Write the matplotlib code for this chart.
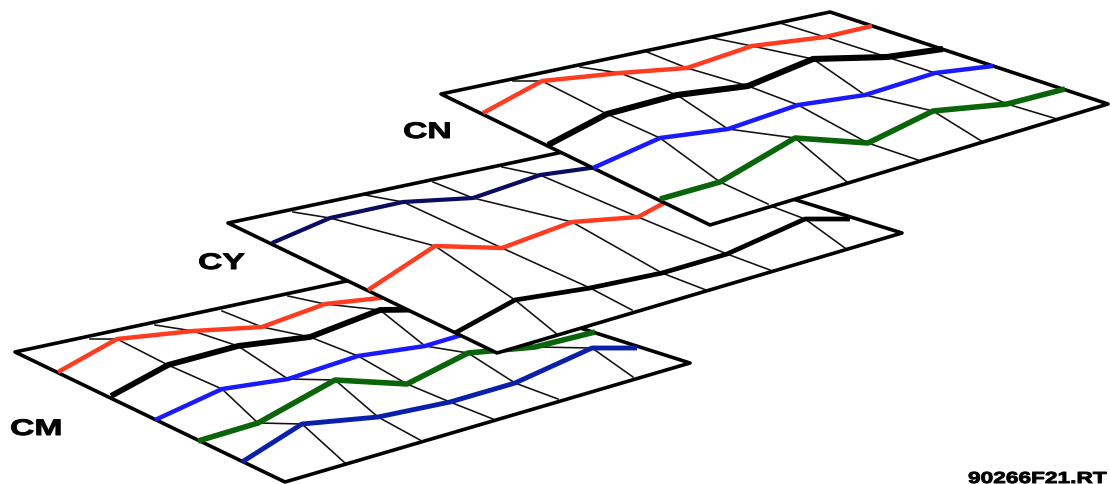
import matplotlib
matplotlib.use("Agg")
import matplotlib.pyplot as plt
from matplotlib.patches import Polygon
from matplotlib.patheffects import AbstractPathEffect
from matplotlib.transforms import Affine2D

# every panel has its own frame: u runs along the sheet, v is height on the sheet,
# both counted from the left corner of the panel

# CN panel
cn_outline_u = [0, 389, 667, 269]
cn_outline_v = [0, 82, -10, -131]
cn_top_u = [72, 139, 206, 272, 339]
cn_top_v = [13, 27, 42, 56, 71]
cn_front_u = [327, 406, 477, 542, 616]
cn_front_v = [-110, -88, -66, -48, -25]
cn_red_u = [42, 101, 179, 246, 311, 384, 431]
cn_red_v = [-19, 13, 21, 26, 48, 57, 68]
cn_black_u = [107, 166, 236, 307, 372, 446, 502]
cn_black_v = [-51, -20, -1, 8, 35, 37, 45]
cn_blue_u = [152, 219, 287, 357, 424, 494, 552]
cn_blue_v = [-74, -44, -35, -11, -1, 21, 28]
cn_green_u = [219, 279, 354, 427, 492, 566, 624]
cn_green_v = [-105, -88, -44, -49, -17, -10, 5]

# CY panel
cy_outline_u = [0, 382, 674, 269]
cy_outline_v = [0, 81, -10, -130]
cy_top_u = [65, 137, 205, 274, 342]
cy_top_v = [11, 28, 41, 56, 71]
cy_front_u = [330, 404, 478, 542, 617]
cy_front_v = [-112, -87, -67, -47, -25]
cy_navy_u = [44, 102, 175, 245, 312, 384, 437]
cy_navy_v = [-20, 5, 21, 25, 48, 58, 63]
cy_red_u = [140, 207, 274, 344, 410, 477, 542]
cy_red_v = [-67, -23, -25, 1, 6, 42, 58]
cy_black_u = [227, 287, 362, 434, 499, 577, 622]
cy_black_v = [-110, -77, -65, -50, -31, 4, 4]

# CM panel
cm_outline_u = [0, 383, 675, 270]
cm_outline_v = [0, 82, -11, -130]
cm_top_u = [75, 140, 207, 273, 340]
cm_top_v = [13, 27, 41, 56, 71]
cm_front_u = [330, 405, 478, 543, 618]
cm_front_v = [-111, -88, -67, -47, -25]
cm_red_u = [43, 102, 178, 247, 310, 383, 430]
cm_red_v = [-20, 13, 21, 25, 48, 56, 72]
cm_black_u = [96, 153, 223, 295, 365, 435, 490]
cm_black_v = [-44, -13, 6, 15, 42, 43, 52]
cm_blue_u = [140, 207, 273, 343, 410, 480, 535]
cm_blue_v = [-68, -37, -27, -4, 6, 27, 42]
cm_green_u = [183, 243, 320, 392, 453, 520, 580]
cm_green_v = [-89, -71, -28, -32, -1, 5, 20]
cm_navy_u = [227, 287, 363, 435, 500, 577, 622]
cm_navy_v = [-110, -72, -65, -50, -31, 4, 4]

RED = "#ff3c20"
BLACK = "#000000"
BLUE = "#1a1aff"
GREEN = "#0a640a"
DARK_NAVY = "#0b0b60"
ROYAL = "#0a20aa"


class StretchX(AbstractPathEffect):
    # the lettering in the original is a heavy extended face, so widen and thicken the glyphs
    def __init__(self, factor):
        super().__init__()
        self.factor = factor

    def draw_path(self, renderer, gc, tpath, affine, rgbFace=None):
        gc0 = renderer.new_gc()
        gc0.copy_properties(gc)
        gc0.set_foreground("black")
        gc0.set_linewidth(0.7)
        renderer.draw_path(gc0, tpath, Affine2D().scale(self.factor, 1) + affine, rgbFace)
        gc0.restore()


def drawPanel(ax, left, top, outline_u, outline_v, top_u, top_v, front_u, front_v, series, z):
    # shift the panel frame to its corner on the page
    frame = Affine2D().translate(left, 484 - top) + ax.transData
    corners = list(zip(outline_u, outline_v))
    ax.add_patch(Polygon(corners, closed=True, facecolor="white", edgecolor="none",
                         transform=frame, zorder=z))
    # thin lines join the same point of each series, back edge to front edge
    for i in range(len(top_u)):
        line_u = [top_u[i]] + [s[0][i + 1] for s in series] + [front_u[i]]
        line_v = [top_v[i]] + [s[1][i + 1] for s in series] + [front_v[i]]
        ax.plot(line_u, line_v, color="#111111", lw=1.15, transform=frame, zorder=z + 1)
    ax.add_patch(Polygon(corners, closed=True, facecolor="none", edgecolor="black", lw=2.6,
                         joinstyle="round", transform=frame, zorder=z + 2))
    for u, v, color, width in series:
        ax.plot(u, v, color=color, lw=width, solid_capstyle="butt", solid_joinstyle="round",
                transform=frame, zorder=z + 3)


def main():
    fig = plt.figure(figsize=(11.10, 4.84), dpi=100)
    ax = fig.add_axes([0, 0, 1, 1])
    ax.set_xlim(0, 1110)
    ax.set_ylim(0, 484)
    ax.axis("off")

    drawPanel(ax, 15, 352, cm_outline_u, cm_outline_v, cm_top_u, cm_top_v, cm_front_u, cm_front_v,
              [(cm_red_u, cm_red_v, RED, 3.2), (cm_black_u, cm_black_v, BLACK, 4.2),
               (cm_blue_u, cm_blue_v, BLUE, 3.2), (cm_green_u, cm_green_v, GREEN, 4.0),
               (cm_navy_u, cm_navy_v, ROYAL, 3.5)], 10)
    drawPanel(ax, 228, 223, cy_outline_u, cy_outline_v, cy_top_u, cy_top_v, cy_front_u, cy_front_v,
              [(cy_navy_u, cy_navy_v, DARK_NAVY, 3.0), (cy_red_u, cy_red_v, RED, 3.2),
               (cy_black_u, cy_black_v, BLACK, 3.4)], 20)
    drawPanel(ax, 441, 94, cn_outline_u, cn_outline_v, cn_top_u, cn_top_v, cn_front_u, cn_front_v,
              [(cn_red_u, cn_red_v, RED, 3.2), (cn_black_u, cn_black_v, BLACK, 4.4),
               (cn_blue_u, cn_blue_v, BLUE, 3.2), (cn_green_u, cn_green_v, GREEN, 4.0)], 30)

    labels = [("CN", 403, 138, 16.2, 1.5), ("CY", 198, 269, 16.2, 1.5), ("CM", 10, 435, 16.2, 1.5),
              ("90266F21.RT", 968, 483, 11.5, 1.42)]
    for text, x, y, size, stretch in labels:
        t = ax.text(x, 484 - y, text, family="Liberation Sans", fontweight="bold", fontsize=size,
                    ha="left", va="baseline", zorder=50)
        t.set_path_effects([StretchX(stretch)])

    fig.savefig("out.png", dpi=100)


if __name__ == "__main__":
    main()
